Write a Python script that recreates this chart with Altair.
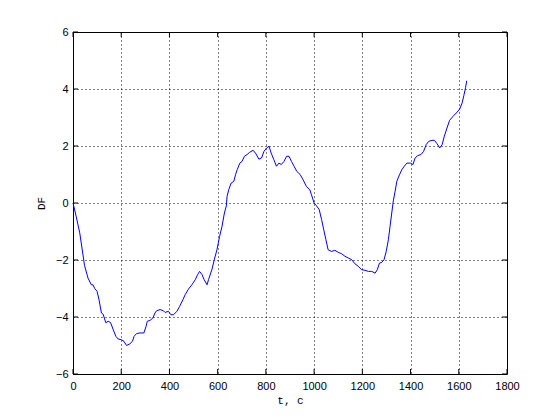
import altair as alt
import pandas as pd

t = [0, 10, 28, 48, 58, 62, 76, 83, 90, 100, 108, 118, 125, 136, 146, 156, 167, 178, 187,
     201, 211, 222, 236, 247, 253, 264, 278, 294, 303, 308, 319, 331, 340, 347, 361, 375,
     382, 396, 406, 417, 431, 442, 456, 465, 479, 493, 507, 517, 525, 535, 544, 556, 562,
     576, 586, 597, 608, 618, 628, 636, 639, 646, 656, 667, 674, 681, 692, 701, 711, 722,
     733, 747, 757, 771, 782, 792, 803, 813, 822, 833, 844, 854, 864, 875, 886, 896, 906,
     917, 928, 942, 954, 968, 982, 989, 1000, 1010, 1021, 1031, 1040, 1049, 1058, 1072,
     1086, 1100, 1114, 1128, 1142, 1156, 1169, 1183, 1197, 1211, 1225, 1239, 1253, 1262,
     1271, 1281, 1290, 1299, 1308, 1315, 1322, 1329, 1336, 1343, 1354, 1364, 1374, 1385,
     1399, 1410, 1419, 1429, 1443, 1454, 1465, 1475, 1489, 1499, 1510, 1521, 1531, 1540,
     1551, 1562, 1576, 1590, 1604, 1614, 1621, 1628, 1633]
df = [0.0, -0.35, -1.05, -2.2, -2.5, -2.63, -2.87, -2.87, -3.0, -3.1, -3.4, -3.86, -3.9,
      -4.2, -4.15, -4.2, -4.45, -4.68, -4.77, -4.8, -4.85, -5.0, -4.94, -4.85, -4.68, -4.58,
      -4.56, -4.56, -4.33, -4.15, -4.12, -4.04, -3.86, -3.78, -3.74, -3.78, -3.84, -3.8,
      -3.92, -3.92, -3.8, -3.63, -3.39, -3.22, -3.02, -2.87, -2.69, -2.51, -2.4, -2.51,
      -2.69, -2.87, -2.69, -2.34, -1.99, -1.64, -1.17, -0.82, -0.35, -0.1, 0.23, 0.47, 0.7,
      0.76, 0.99, 1.17, 1.4, 1.46, 1.64, 1.7, 1.78, 1.85, 1.75, 1.54, 1.58, 1.81, 1.93, 1.99,
      1.75, 1.52, 1.29, 1.4, 1.35, 1.46, 1.64, 1.64, 1.46, 1.29, 1.11, 1.0, 0.82, 0.58, 0.47,
      0.29, 0.0, -0.1, -0.23, -0.58, -0.94, -1.29, -1.64, -1.7, -1.66, -1.73, -1.78, -1.87,
      -1.93, -1.99, -2.13, -2.22, -2.34, -2.36, -2.4, -2.4, -2.46, -2.34, -2.11, -2.08,
      -1.99, -1.7, -1.29, -0.82, -0.35, 0.1, 0.41, 0.76, 0.99, 1.17, 1.29, 1.4, 1.4, 1.35,
      1.58, 1.66, 1.7, 1.81, 2.05, 2.16, 2.2, 2.2, 2.08, 1.93, 2.05, 2.34, 2.63, 2.9, 3.04,
      3.16, 3.3, 3.51, 3.77, 4.04, 4.29]

x_ticks = [0, 200, 400, 600, 800, 1000, 1200, 1400, 1600, 1800]
y_ticks = [-6, -4, -2, 0, 2, 4, 6]

W, H = 434, 342
data = pd.DataFrame({"t": t, "df": df})

xs = alt.Scale(domain=[0, 1800], nice=False, zero=False)
ys = alt.Scale(domain=[-6, 6], nice=False, zero=False)

xaxis = alt.Axis(values=x_ticks, format="d", grid=True, gridColor="black", gridDash=[1, 3],
                 gridOpacity=1, tickSize=0, domain=False, labelFont="Liberation Sans",
                 labelFontSize=11, labelColor="black", labelPadding=6,
                 title="t, c", titleFont="Liberation Mono", titleFontSize=11,
                 titleFontWeight="normal", titleColor="black", titlePadding=3,
                 labelFlush=False)
yaxis = alt.Axis(values=y_ticks, format="d", grid=True, gridColor="black", gridDash=[1, 3],
                 gridOpacity=1, tickSize=0, domain=False, labelFont="Liberation Sans",
                 labelFontSize=11, labelColor="black", labelPadding=5,
                 title="DF", titleFont="Liberation Mono", titleFontSize=11,
                 titleFontWeight="normal", titleColor="black", titlePadding=9,
                 labelFlush=False)

line = alt.Chart(data).mark_line(color="#0000ff", strokeWidth=1).encode(
    x=alt.X("t:Q", scale=xs, axis=xaxis),
    y=alt.Y("df:Q", scale=ys, axis=yaxis),
)

xt = pd.DataFrame({"t": x_ticks})
yt = pd.DataFrame({"v": y_ticks})
tick_b = alt.Chart(xt).mark_rule(color="black").encode(
    x=alt.X("t:Q", scale=xs), y=alt.value(H), y2=alt.value(H - 5))
tick_t = alt.Chart(xt).mark_rule(color="black").encode(
    x=alt.X("t:Q", scale=xs), y=alt.value(0), y2=alt.value(5))
tick_l = alt.Chart(yt).mark_rule(color="black").encode(
    y=alt.Y("v:Q", scale=ys), x=alt.value(0), x2=alt.value(5))
tick_r = alt.Chart(yt).mark_rule(color="black").encode(
    y=alt.Y("v:Q", scale=ys), x=alt.value(W), x2=alt.value(W - 5))

chart = alt.layer(line, tick_b, tick_t, tick_l, tick_r).properties(
    width=W, height=H,
    autosize=alt.AutoSizeParams(type="none"),
    padding={"left": 65, "top": 24, "right": 30, "bottom": 40},
    background="white",
).configure_view(stroke="black", strokeWidth=1)

chart.save("out.html", embed_options={"renderer": "svg", "actions": False})
